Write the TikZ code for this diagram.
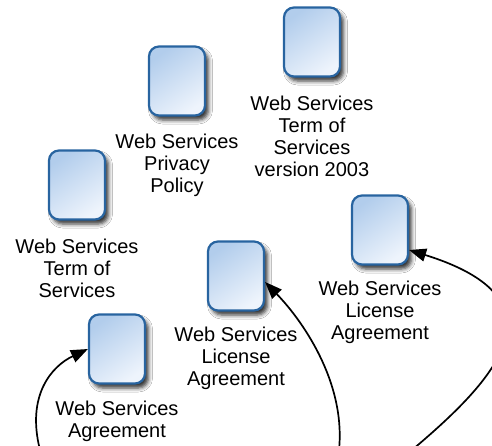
\documentclass[tikz,border=0pt]{standalone}
\usepackage{fontspec}
\setmainfont{Liberation Sans}
\usetikzlibrary{shadows.blur,arrows.meta}
\definecolor{boxline}{RGB}{40,100,160}
\definecolor{boxtop}{RGB}{178,205,236}
\definecolor{boxbot}{RGB}{238,244,252}
\tikzset{
  docbox/.style={draw=boxline, line width=2.2pt, rounded corners=10pt,
    minimum width=56pt, minimum height=69pt, inner sep=0pt,
    top color=boxtop, bottom color=boxbot, shading angle=35,
    blur shadow={shadow xshift=3.5pt, shadow yshift=-4.5pt, shadow blur radius=4pt, shadow opacity=80}},
  lbl/.style={align=center, inner sep=0pt, font=\fontsize{20}{22}\selectfont},
  >={Triangle[length=17pt,width=13pt]},
  arr/.style={line width=1.7pt, ->}
}
\begin{document}
\begin{tikzpicture}[x=1pt,y=-1pt]
\clip (0,0) rectangle (492,445);
\fill[white] (0,0) rectangle (492,445);
\node[docbox] (b1) at (312,42) {};
\node[docbox] (b2) at (177,81) {};
\node[docbox] (b3) at (77,185) {};
\node[docbox] (b4) at (380,230) {};
\node[docbox] (b5) at (236,276) {};
\node[docbox] (b6) at (117,349) {};
\node[lbl] (l1) at (312,136) {Web Services\\Term of\\Services\\version 2003};
\node[lbl] (l2) at (177,165) {Web Services\\Privacy\\Policy};
\node[lbl] (l3) at (77,268) {Web Services\\Term of\\Services};
\node[lbl] (l4) at (380,312) {Web Services\\License\\Agreement};
\node[lbl] (l5) at (236,358) {Web Services\\License\\Agreement};
\node[lbl] (l6) at (117,421) {Web Services\\Agreement};
\coordinate (sA) at (40,450);
\coordinate (sB) at (339,450);
\coordinate (sC) at (412,450);
\draw[arr] (sA) .. controls (26,395) and (52,366) .. (b6.west);
\draw[arr] (sB) .. controls (346,380) and (300,318) .. ([yshift=-6pt]b5.east);
\draw[arr] (sC) .. controls (495,380) and (570,300) .. ([yshift=-20pt]b4.east);
\end{tikzpicture}
\end{document}
